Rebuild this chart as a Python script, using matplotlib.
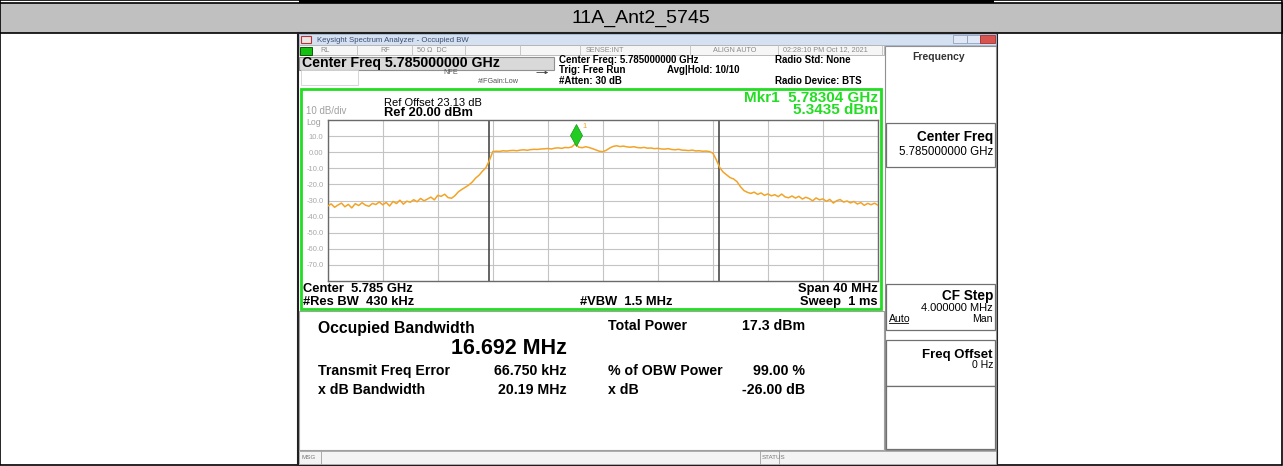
import matplotlib
import matplotlib.pyplot as plt
import matplotlib.transforms as mtransforms
import numpy as np
from matplotlib.patches import Rectangle

matplotlib.use("Agg")

# ---- data ----
table_title = "11A_Ant2_5745"
center_ghz = 5.785
span_mhz = 40.0
ref_level = 20.0
db_per_div = 10.0

# trace, 0.25 MHz steps from -20 MHz to +20 MHz around the center
trace_dbm = [
    -33.5, -32.1, -34.2, -32.8, -31.6, -33.9, -32.4, -34.6,
    -32.0, -33.1, -31.4, -32.9, -33.6, -31.8, -32.5, -30.9,
    -32.7, -31.2, -33.4, -30.6, -31.9, -29.8, -32.3, -30.4,
    -31.1, -29.5, -30.8, -28.7, -30.2, -29.1, -27.9, -29.6,
    -26.8, -27.4, -26.1, -28.2, -28.6, -27.0, -24.6, -23.1,
    -21.8, -20.4, -18.6, -16.1, -14.3, -11.8, -9.6, -5.2,
    0.4, 0.6, 0.5, 0.9, 0.7, 1.0, 1.1, 0.9,
    1.3, 1.5, 1.2, 1.6, 1.8, 1.7, 2.0, 2.1,
    2.3, 2.0, 2.5, 2.7, 2.4, 2.9, 2.8, 3.3,
    5.3, 3.1, 2.8, 3.4, 2.9, 2.2, 1.4, 0.6,
    0.3, 1.2, 2.6, 3.6, 4.0, 3.5, 3.8, 3.3,
    3.1, 3.4, 2.9, 2.7, 3.0, 2.5, 2.6, 2.2,
    2.4, 2.0, 1.9, 2.2, 1.7, 1.5, 1.8, 1.3,
    1.2, 1.0, 1.3, 0.8, 0.9, 0.6, 0.7, 0.4,
    -0.6, -4.8, -9.6, -12.4, -14.1, -15.8, -16.6, -18.3,
    -21.4, -23.8, -24.9, -25.6, -24.8, -26.2, -25.3, -26.8,
    -25.9, -27.1, -26.4, -27.6, -26.0, -27.8, -28.3, -27.2,
    -28.5, -27.4, -29.1, -28.0, -28.8, -30.2, -28.4, -29.6,
    -29.0, -30.5, -29.3, -31.6, -30.1, -29.4, -31.0, -30.3,
    -31.5, -30.6, -32.2, -31.3, -33.0, -31.8, -32.6, -31.7,
    -32.9,
]
freq_mhz = np.linspace(-span_mhz / 2, span_mhz / 2, len(trace_dbm))

ytick_values = [10, 0, -10, -20, -30, -40, -50, -60, -70]
ytick_labels = ["10.0", "0.00", "-10.0", "-20.0", "-30.0", "-40.0", "-50.0", "-60.0", "-70.0"]

marker_ghz = 5.78304
marker_dbm = 5.3435
obw_mhz = 16.692
freq_error_khz = 66.750

result_left = [("Transmit Freq Error", "66.750 kHz"), ("x dB Bandwidth", "20.19 MHz")]
result_right = [("Total Power", "17.3 dBm"), ("% of OBW Power", "99.00 %"), ("x dB", "-26.00 dB")]

W, H = 1283, 466
fig = plt.figure(figsize=(W / 100, H / 100), dpi=100)
bg = fig.add_axes([0, 0, 1, 1])
bg.set_xlim(0, W)
bg.set_ylim(H, 0)
bg.axis("off")

FONT = "Liberation Sans"


def box(x0, y0, x1, y1, fc="white", ec="black", lw=1.0, z=1):
    bg.add_patch(Rectangle((x0, y0), x1 - x0, y1 - y0, facecolor=fc, edgecolor=ec, lw=lw, zorder=z))


def txt(x, y, s, size, ha="left", weight="normal", color="black", family=FONT):
    bg.text(x, y, s, fontsize=size, ha=ha, va="center", fontweight=weight, color=color,
            family=family, zorder=5)


# ---- table around the screenshot ----
box(0, 0, W - 1, H - 1, fc="white", ec="black", lw=1.2)
box(0, 3, W - 1, 33, fc="#c0c0c0", ec="black", lw=1.2)
box(299, 0, 994, 3, fc="black", ec="black", lw=0)
txt(641, 18, table_title, 14, ha="center", family=["Liberation Sans Narrow", "Liberation Sans"])

# ---- analyzer window ----
box(298, 33, 997, H, fc="white", ec="#202020", lw=1.5)
box(299, 34, 996, 45, fc="#d5e1f1", ec="#9fb2cc", lw=0.6)
box(301, 36, 311, 43, fc="#e8e8e8", ec="#c03030", lw=0.8, z=2)
txt(317, 40, "Keysight Spectrum Analyzer - Occupied BW", 5.6, color="#3a4d72")
box(953, 35, 967, 43, fc="#dfe8f4", ec="#8fa3c0", lw=0.6, z=2)
box(967, 35, 980, 43, fc="#dfe8f4", ec="#8fa3c0", lw=0.6, z=2)
box(980, 35, 995, 43, fc="#d9534f", ec="#a03030", lw=0.6, z=2)

# status row
box(299, 45, 884, 55, fc="#f6f6f6", ec="#b0b0b0", lw=0.6)
box(300, 46.5, 312, 54.5, fc="#11c011", ec="#004400", lw=0.6, z=2)
for xs in [357, 412, 465, 520, 580, 690, 778, 882]:
    bg.plot([xs, xs], [45, 55], color="#c0c0c0", lw=0.6, zorder=3)
for xs, s in [(320, "RL"), (380, "RF"), (417, "50 \u03a9  DC"), (586, "SENSE:INT"),
              (713, "ALIGN AUTO"), (783, "02:28:10 PM Oct 12, 2021")]:
    txt(xs, 50, s, 5.2, color="#8a8a8a")

# center freq header
box(299, 56.5, 554, 69.5, fc="#d9d9d9", ec="#909090", lw=0.8)
txt(302, 63.3, "Center Freq 5.785000000 GHz", 10.2, weight="bold")
box(301, 70, 358, 85, fc="white", ec="#d0d0d0", lw=0.6)
txt(443, 73, "NFE", 5.2, color="#555555")
bg.annotate("", xy=(534, 72.5), xytext=(551, 72.5),
            arrowprops=dict(arrowstyle="<|-", color="#444444", lw=0.6, mutation_scale=4))
txt(478, 81.7, "#IFGain:Low", 5.2, color="#555555")
txt(559, 60, "Center Freq: 5.785000000 GHz", 7, weight="bold")
txt(559, 70, "Trig: Free Run", 7, weight="bold")
txt(559, 80.5, "#Atten: 30 dB", 7, weight="bold")
txt(667, 70, "Avg|Hold: 10/10", 7, weight="bold")
txt(775, 60, "Radio Std: None", 7, weight="bold")
txt(775, 81, "Radio Device: BTS", 7, weight="bold")

# green graph frame and labels
box(301, 89, 881, 309, fc="white", ec="#22dd22", lw=2.0, z=1.5)
txt(384, 102.7, "Ref Offset 23.13 dB", 8)
txt(384, 113.3, "Ref 20.00 dBm", 9.3, weight="bold")
txt(306, 111.5, "10 dB/div", 7, color="#a0a0a0")
txt(306, 122.5, "Log", 6.3, color="#a0a0a0")
txt(878, 98.3, "Mkr1  %.5f GHz" % marker_ghz, 11, ha="right", weight="bold", color="#22dd22")
txt(878, 110, "%.4f dBm" % marker_dbm, 11, ha="right", weight="bold", color="#22dd22")
txt(303, 289.3, "Center  %.3f GHz" % center_ghz, 9.3, weight="bold")
txt(303, 301.7, "#Res BW  430 kHz", 9.3, weight="bold")
txt(580, 301.7, "#VBW  1.5 MHz", 9.3, weight="bold")
txt(878, 289.3, "Span %d MHz" % span_mhz, 9.3, ha="right", weight="bold")
txt(878, 301.7, "Sweep  1 ms", 9.3, ha="right", weight="bold")

# ---- spectrum plot ----
sp = fig.add_axes([327.7 / W, 1 - 281 / H, 550.3 / W, 161 / H])
sp.set_zorder(3)
sp.set_xlim(-span_mhz / 2, span_mhz / 2)
sp.set_ylim(ref_level - 10 * db_per_div, ref_level)
sp.set_xticks(np.arange(-20, 21, 4))
sp.set_yticks(ytick_values, ytick_labels)
sp.tick_params(axis="x", length=0, labelbottom=False)
sp.tick_params(axis="y", length=0, pad=3, labelsize=5.5, labelcolor="#a8a8a8")
for lab in sp.get_yticklabels():
    lab.set_family(FONT)
sp.grid(True, color="#c4c4c4", lw=0.8)
sp.set_axisbelow(True)
for s in sp.spines.values():
    s.set_color("#6a6a6a")
    s.set_linewidth(1.0)

obw_center = freq_error_khz / 1000.0
for edge in [obw_center - obw_mhz / 2, obw_center + obw_mhz / 2]:
    sp.axvline(edge, color="#3a3a3a", lw=1.1, zorder=2)

sp.plot(freq_mhz, trace_dbm, color="#f2a428", lw=1.1, zorder=3)

mk_x = (marker_ghz - center_ghz) * 1000
lift = mtransforms.offset_copy(sp.transData, fig=fig, x=0, y=6, units="points")
sp.plot(mk_x, marker_dbm, marker="d", ms=11, color="#22cc22", mec="#119911", mew=0.5,
        transform=lift, zorder=4, clip_on=False)
sp.text(mk_x, marker_dbm, "1", transform=mtransforms.offset_copy(sp.transData, fig=fig, x=5, y=11, units="points"),
        fontsize=5.5, color="#f2a428", family=FONT, zorder=4)

# ---- results area ----
box(299, 311, 884, 450, fc="white", ec="#a0a0a0", lw=0.8)
txt(318, 328.3, "Occupied Bandwidth", 11.3, weight="bold")
txt(567, 348.3, "%.3f MHz" % obw_mhz, 15.5, ha="right", weight="bold")
for (lab, val), y in zip(result_left, [370.7, 389.5]):
    txt(318, y, lab, 10.2, weight="bold")
    txt(567, y, val, 10.2, ha="right", weight="bold")
for (lab, val), y in zip(result_right, [326, 370.7, 389.5]):
    txt(608, y, lab, 10.2, weight="bold")
    txt(805, y, val, 10.2, ha="right", weight="bold")

# ---- right soft-key panel ----
box(885, 46, 996, 450, fc="white", ec="#909090", lw=0.8)
txt(939, 57, "Frequency", 7.5, ha="center", weight="bold", color="#333333")
for y0, y1 in [(122.7, 166.7), (284, 330), (339.6, 385.5), (385.5, 449)]:
    box(886, y0, 995, y1, fc="white", ec="#707070", lw=0.9, z=2)
txt(993, 137, "Center Freq", 9.8, ha="right", weight="bold")
txt(993, 152, "5.785000000 GHz", 8.3, ha="right")
txt(993, 296, "CF Step", 9.8, ha="right", weight="bold")
txt(993, 307.6, "4.000000 MHz", 8, ha="right")
txt(889, 318.7, "Auto", 7.6)
bg.plot([889, 908], [323, 323], color="black", lw=0.6, zorder=5)
txt(993, 318.7, "Man", 7.6, ha="right")
txt(993, 355, "Freq Offset", 9.5, ha="right", weight="bold")
txt(993, 364.5, "0 Hz", 7.6, ha="right")

# ---- bottom status bar ----
box(299, 451, 996, 464, fc="#f4f4f4", ec="#a0a0a0", lw=0.6)
for xs in [321, 760, 779]:
    bg.plot([xs, xs], [451, 464], color="#a0a0a0", lw=0.6, zorder=3)
txt(301, 457.5, "MSG", 4.5, color="#777777")
txt(762, 457.5, "STATUS", 4.5, color="#777777")

fig.savefig("out.png", dpi=100)
